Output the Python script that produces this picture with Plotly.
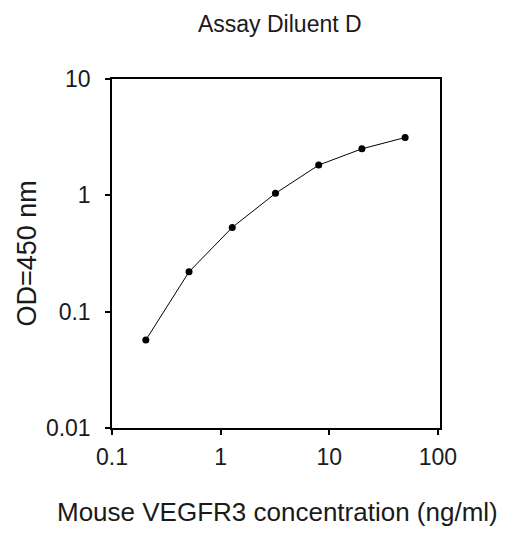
import plotly.graph_objects as go

concentration = [0.2048, 0.512, 1.28, 3.2, 8.0, 20.0, 50.0]
od450 = [0.057, 0.220, 0.530, 1.04, 1.82, 2.51, 3.14]

title_text = "Assay Diluent D"
x_title = "Mouse VEGFR3 concentration (ng/ml)"
y_title = "OD=450 nm"
x_ticks = [0.1, 1, 10, 100]
x_ticklabels = ["0.1", "1", "10", "100"]
y_ticks = [0.01, 0.1, 1, 10]
y_ticklabels = ["0.01", "0.1", "1", "10"]

FONT = "Liberation Sans, Arial, sans-serif"
TXT = "#1a1a1a"

fig = go.Figure()
fig.add_trace(go.Scatter(
    x=concentration, y=od450, mode="lines+markers",
    line=dict(color="black", width=1),
    marker=dict(color="black", size=7, symbol="circle"),
    showlegend=False,
))

fig.update_layout(
    width=509, height=525,
    margin=dict(l=104, r=77, t=71, b=105, autoexpand=False),
    paper_bgcolor="white", plot_bgcolor="white",
    font=dict(family=FONT, color=TXT, size=23),
    title=dict(text=title_text, x=0.534, xanchor="center", y=0.9695, yanchor="middle",
               font=dict(size=23, family=FONT, color=TXT)),
    annotations=[
        dict(text=x_title, xref="paper", yref="paper", x=0.505, y=0,
             xanchor="center", yanchor="middle", yshift=-84, showarrow=False,
             font=dict(size=26, family=FONT, color=TXT)),
        dict(text=y_title, xref="paper", yref="paper", x=0, y=0.5,
             xanchor="center", yanchor="middle", xshift=-86, textangle=-90,
             showarrow=False, font=dict(size=27, family=FONT, color=TXT)),
    ],
)
fig.update_xaxes(
    type="log", range=[-1.0, 2.02], automargin=False,
    tickvals=x_ticks, ticktext=x_ticklabels,
    showline=True, linecolor="black", linewidth=1.5, mirror=True,
    ticks="outside", ticklen=5, tickwidth=1.5, tickcolor="black",
    showgrid=False, zeroline=False,
    tickfont=dict(size=23, family=FONT, color=TXT),
    ticklabelstandoff=3,
)
fig.update_yaxes(
    type="log", range=[-2, 1], automargin=False,
    tickvals=y_ticks, ticktext=y_ticklabels,
    showline=True, linecolor="black", linewidth=1.5, mirror=True,
    ticks="outside", ticklen=5, tickwidth=1.5, tickcolor="black",
    showgrid=False, zeroline=False,
    tickfont=dict(size=23, family=FONT, color=TXT),
    ticklabelstandoff=10,
)

fig.write_html("out.html")
